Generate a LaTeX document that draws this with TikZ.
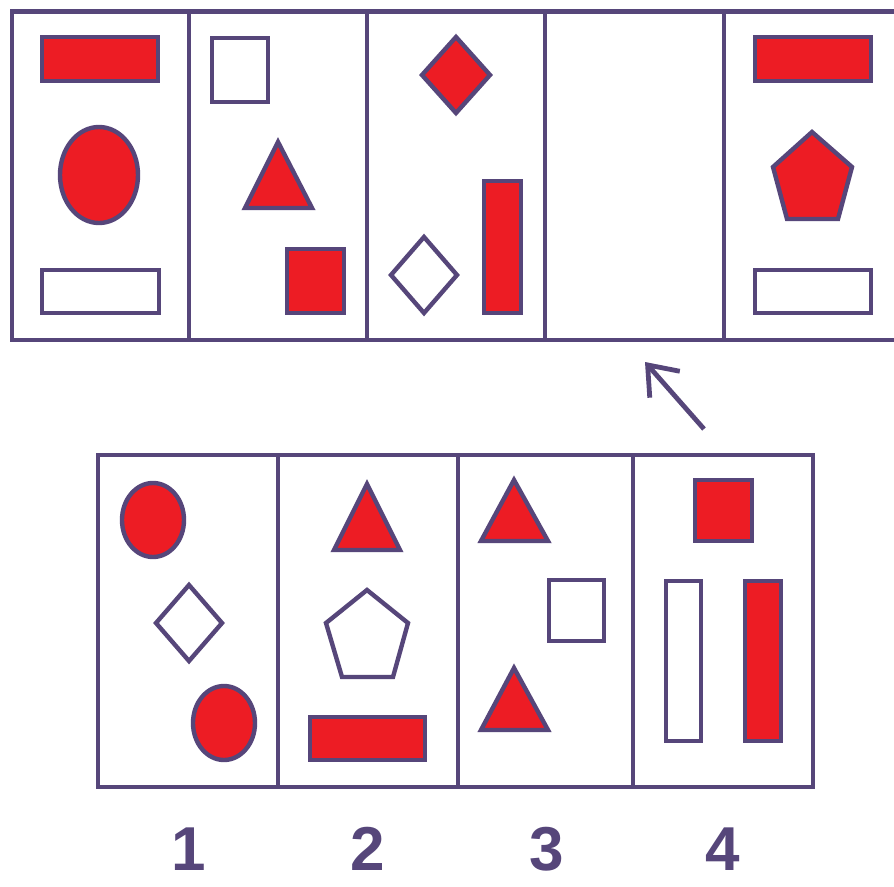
\documentclass[tikz,border=0pt]{standalone}
\usepackage{fontspec}
\setmainfont{Liberation Sans}
\usetikzlibrary{arrows.meta}
\definecolor{ink}{RGB}{86,70,122}
\definecolor{fillred}{RGB}{237,28,36}
\tikzset{
  frame/.style={draw=ink, line width=4.6pt},
  redshape/.style={draw=ink, fill=fillred, line width=4.4pt, line join=miter},
  whiteshape/.style={draw=ink, fill=white, line width=4.4pt, line join=miter},
  numlabel/.style={text=ink, font=\bfseries\fontsize{62}{62}\selectfont, inner sep=0pt},
  pointer/.style={draw=ink, line width=4.8pt, -{Straight Barb[length=26pt,width=40pt,line width=4.8pt]}}
}
\begin{document}
\begin{tikzpicture}[x=1pt,y=-1pt]
\clip (0,0) rectangle (894,886);
\fill[white] (0,0) rectangle (894,886);
% top strip
\draw[frame] (12,11.5) rectangle (910,340);
\foreach \x in {189,367,545,724} \draw[frame] (\x,11.5) -- (\x,340);
% panel 1
\draw[redshape] (42,37) rectangle (158,81);
\draw[redshape] (99,175) ellipse [x radius=39, y radius=48];
\draw[whiteshape] (42,270) rectangle (159,313);
% panel 2
\draw[whiteshape] (212,38) rectangle (268,102);
\draw[redshape] (278,142) -- (312,208) -- (245,208) -- cycle;
\draw[redshape] (287,249) rectangle (344,313);
% panel 3
\draw[redshape] (456,37) -- (490,75) -- (456,113) -- (422,75) -- cycle;
\draw[whiteshape] (424,237) -- (457,275) -- (424,313) -- (391,275) -- cycle;
\draw[redshape] (484,181) rectangle (521,313);
% panel 5
\draw[redshape] (755,37) rectangle (871,81);
\draw[redshape] (812,132) -- (852,167) -- (838,219) -- (787,219) -- (773,167) -- cycle;
\draw[whiteshape] (755,270) rectangle (871,313);
% arrow
\coordinate (arrowstart) at (704,429);
\coordinate (arrowend) at (645,362);
\draw[pointer] (arrowstart) -- (arrowend);
% bottom strip
\draw[frame] (98,455) rectangle (813,787);
\foreach \x in {278,458,633} \draw[frame] (\x,455) -- (\x,787);
% option 1
\draw[redshape] (153,520) ellipse [x radius=31, y radius=37];
\draw[whiteshape] (189,585) -- (222,623) -- (189,661) -- (156,623) -- cycle;
\draw[redshape] (224,723) ellipse [x radius=31, y radius=37];
% option 2
\draw[redshape] (367,484) -- (400,550) -- (334,550) -- cycle;
\draw[whiteshape] (367,590) -- (408,623) -- (393,677) -- (342,677) -- (326,623) -- cycle;
\draw[redshape] (310,717) rectangle (425,760);
% option 3
\draw[redshape] (514,480) -- (548,541) -- (481,541) -- cycle;
\draw[whiteshape] (549,580) rectangle (604,641);
\draw[redshape] (514,668) -- (548,730) -- (481,730) -- cycle;
% option 4
\draw[redshape] (695,480) rectangle (752,541);
\draw[whiteshape] (666,581) rectangle (701,741);
\draw[redshape] (745,581) rectangle (781,741);
% numbers
\node[numlabel] (n1) at (189,849) {1};
\node[numlabel] (n2) at (368,849) {2};
\node[numlabel] (n3) at (547,849) {3};
\node[numlabel] (n4) at (723,849) {4};
\end{tikzpicture}
\end{document}
